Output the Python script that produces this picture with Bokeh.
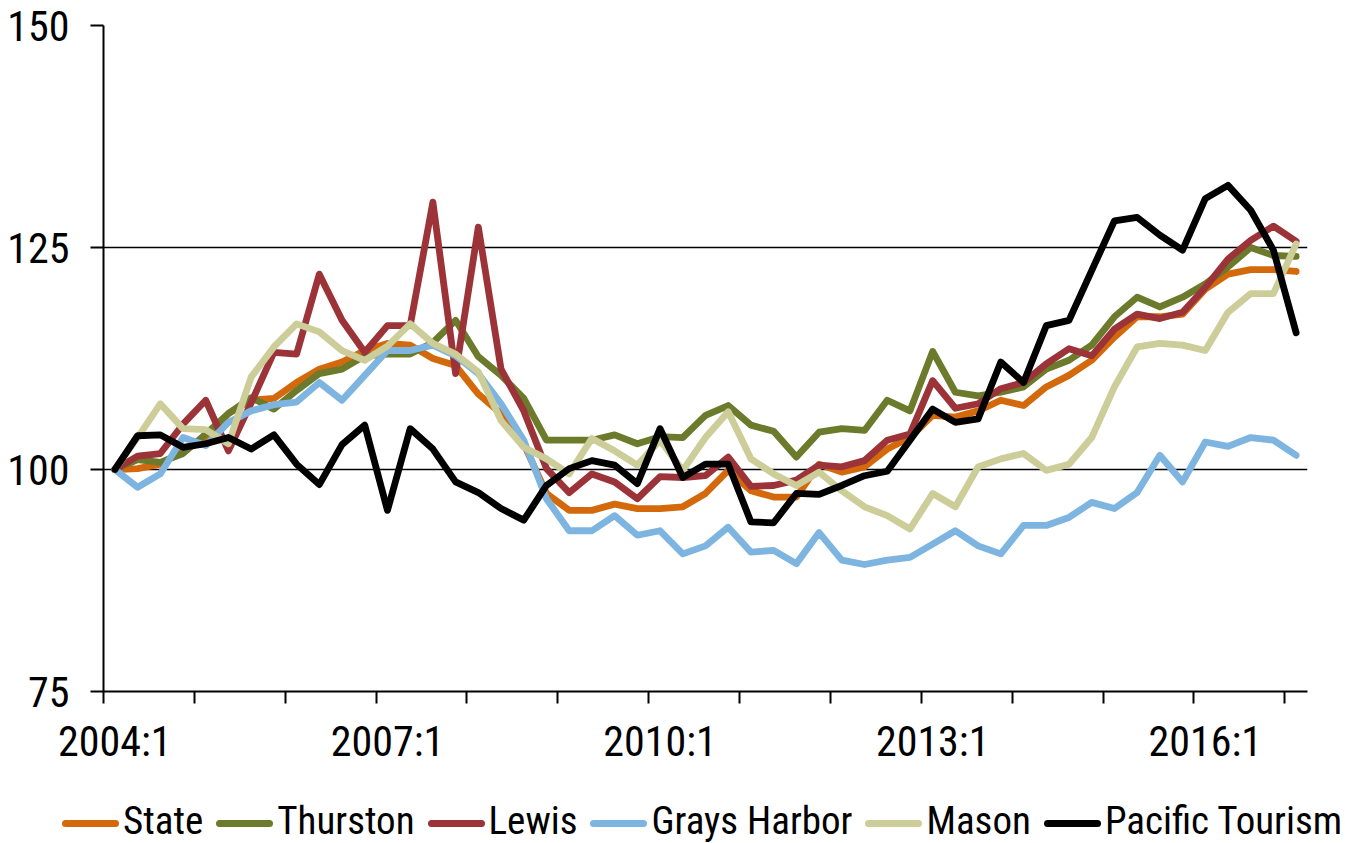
from bokeh.plotting import figure
from bokeh.models import FixedTicker, Range1d, Div
from bokeh.layouts import column
from bokeh.embed import file_html
from bokeh.resources import INLINE

FONT = "Roboto Condensed"

# Quarterly index, 2004:1 .. 2017:1 (53 quarters)
quarters = [f"{y}:{q}" for y in range(2004, 2018) for q in range(1, 5)][:53]
tick_labels = ["2004:1", "2007:1", "2010:1", "2013:1", "2016:1"]

state = [100.0, 100.1, 100.6, 102.1, 103.6, 106.3, 107.8, 108.0, 109.8, 111.3, 112.1, 113.4,
         114.2, 114.0, 112.5, 111.7, 108.5, 106.3, 102.9, 97.3, 95.4, 95.4, 96.1, 95.6,
         95.6, 95.8, 97.3, 99.9, 97.6, 96.9, 96.9, 100.6, 99.7, 100.3, 102.3, 103.6,
         106.1, 105.9, 106.6, 107.8, 107.2, 109.3, 110.6, 112.3, 114.9, 117.2, 117.2, 117.5,
         120.3, 122.0, 122.5, 122.5, 122.3]
thurston = [100.0, 101.1, 100.8, 101.8, 104.0, 106.3, 108.1, 106.8, 108.9, 110.8, 111.3, 112.8,
            113.0, 113.0, 114.3, 116.8, 112.7, 110.6, 108.0, 103.3, 103.3, 103.3, 103.9, 102.9,
            103.7, 103.6, 106.1, 107.2, 105.0, 104.3, 101.4, 104.2, 104.6, 104.4, 107.8, 106.6,
            113.3, 108.7, 108.3, 108.7, 109.3, 111.3, 112.3, 114.0, 117.2, 119.4, 118.3, 119.4,
            120.9, 122.8, 125.0, 124.1, 124.0]
lewis = [100.0, 101.5, 101.8, 105.1, 107.8, 102.1, 107.5, 113.2, 113.0, 122.0, 116.8, 113.2,
         116.2, 116.2, 130.1, 110.8, 127.3, 111.3, 106.6, 100.1, 97.4, 99.5, 98.6, 96.7,
         99.2, 99.1, 99.3, 101.4, 98.1, 98.2, 98.8, 100.5, 100.3, 101.0, 103.3, 104.0,
         110.0, 106.9, 107.4, 109.1, 109.8, 111.9, 113.6, 112.8, 115.8, 117.5, 117.0, 117.7,
         120.5, 123.7, 125.8, 127.4, 125.7]
grays_harbor = [100.0, 98.0, 99.5, 103.6, 102.7, 105.3, 106.6, 107.3, 107.6, 109.8, 107.8, 110.6,
                113.4, 113.4, 114.0, 112.8, 110.8, 107.4, 103.3, 96.7, 93.1, 93.1, 94.8, 92.6,
                93.1, 90.5, 91.4, 93.5, 90.7, 90.9, 89.4, 92.9, 89.8, 89.3, 89.8, 90.1,
                91.6, 93.1, 91.4, 90.5, 93.7, 93.7, 94.6, 96.3, 95.6, 97.4, 101.6, 98.6,
                103.1, 102.6, 103.6, 103.3, 101.6]
mason = [100.0, 103.6, 107.4, 104.6, 104.5, 102.9, 110.4, 113.8, 116.4, 115.5, 113.4, 112.3,
         113.9, 116.4, 114.2, 113.0, 111.0, 105.5, 102.5, 101.2, 99.5, 103.5, 102.1, 100.5,
         103.3, 99.9, 103.6, 106.5, 101.2, 99.5, 98.2, 99.7, 97.6, 95.8, 94.8, 93.3,
         97.3, 95.8, 100.3, 101.2, 101.8, 99.9, 100.6, 103.6, 109.3, 113.8, 114.2, 114.0,
         113.4, 117.7, 119.8, 119.8, 125.4]
pacific_tourism = [100.0, 103.8, 103.9, 102.5, 102.9, 103.6, 102.3, 103.9, 100.6, 98.3, 102.8, 105.0,
                   95.4, 104.6, 102.3, 98.6, 97.4, 95.6, 94.3, 98.2, 100.1, 101.0, 100.5, 98.4,
                   104.6, 99.1, 100.6, 100.6, 94.1, 94.0, 97.3, 97.2, 98.2, 99.3, 99.8, 103.3,
                   106.8, 105.3, 105.7, 112.1, 109.8, 116.2, 116.8, 122.4, 128.0, 128.4, 126.4, 124.7,
                   130.5, 132.0, 129.2, 124.7, 115.4]

series_names = ["State", "Thurston", "Lewis", "Grays Harbor", "Mason", "Pacific Tourism"]
series_values = [state, thurston, lewis, grays_harbor, mason, pacific_tourism]
series_colors = ["#D3690A", "#6C7A2B", "#9C3338", "#7EB5E0", "#CDCD9A", "#000000"]

LINE_W = 6.8
x = list(range(len(quarters)))

W, H1, H2 = 1345, 790, 53
p = figure(width=W, height=H1,
           x_range=Range1d(-0.5, len(quarters) - 0.5), y_range=Range1d(75, 150),
           output_backend="svg", toolbar_location=None,
           min_border_left=103, min_border_right=38, min_border_top=25, min_border_bottom=H1 - 691)
p.outline_line_color = None

p.xgrid.visible = False
p.ygrid.ticker = FixedTicker(ticks=[100, 125, 150])
p.ygrid.grid_line_color = "black"
p.ygrid.grid_line_width = 1.5

label_pos = [quarters.index(t) for t in tick_labels]
p.xaxis.ticker = FixedTicker(ticks=label_pos, minor_ticks=[i - 0.5 for i in range(0, len(quarters), 4)])
p.xaxis.major_label_overrides = {pos: lab for pos, lab in zip(label_pos, tick_labels)}
p.xaxis.major_tick_out = 0
p.xaxis.major_tick_in = 0
p.xaxis.minor_tick_out = 12
p.xaxis.minor_tick_in = 0
p.xaxis.minor_tick_line_color = "black"
p.xaxis.minor_tick_line_width = 2
p.xaxis.axis_line_color = "black"
p.xaxis.axis_line_width = 2
p.xaxis.major_label_text_font = FONT
p.xaxis.major_label_text_font_size = "42px"
p.xaxis.major_label_text_color = "black"
p.xaxis.major_label_standoff = 13

p.yaxis.ticker = FixedTicker(ticks=[75, 100, 125, 150])
p.yaxis.major_tick_out = 13
p.yaxis.major_tick_in = 0
p.yaxis.minor_tick_out = 0
p.yaxis.minor_tick_in = 0
p.yaxis.major_tick_line_color = "black"
p.yaxis.major_tick_line_width = 2
p.yaxis.axis_line_color = "black"
p.yaxis.axis_line_width = 2
p.yaxis.major_label_text_font = FONT
p.yaxis.major_label_text_font_size = "42px"
p.yaxis.major_label_text_color = "black"
p.yaxis.major_label_standoff = 21

for name, vals, col in zip(series_names, series_values, series_colors):
    p.line(x, vals, line_color=col, line_width=LINE_W, line_join="round", line_cap="round")

# legend strip below the chart
parts = []
for name, col in zip(series_names, series_colors):
    parts.append(
        f'<span style="display:inline-block;width:57px;height:7px;border-radius:3.5px;'
        f'background:{col};vertical-align:middle;margin-right:4px;"></span>'
        f'<span style="margin-right:13px;">{name}</span>')
legend_html = ('<div style="white-space:nowrap;font-family:\'Roboto Condensed\';font-size:39px;'
               'line-height:44px;padding-left:62px;padding-top:9px;color:#000;">'
               + "".join(parts) + '</div>')
legend_div = Div(text=legend_html, width=W, height=H2, margin=0)

layout = column(p, legend_div, spacing=0, margin=0)
open("out.html", "w").write(file_html(layout, INLINE))
